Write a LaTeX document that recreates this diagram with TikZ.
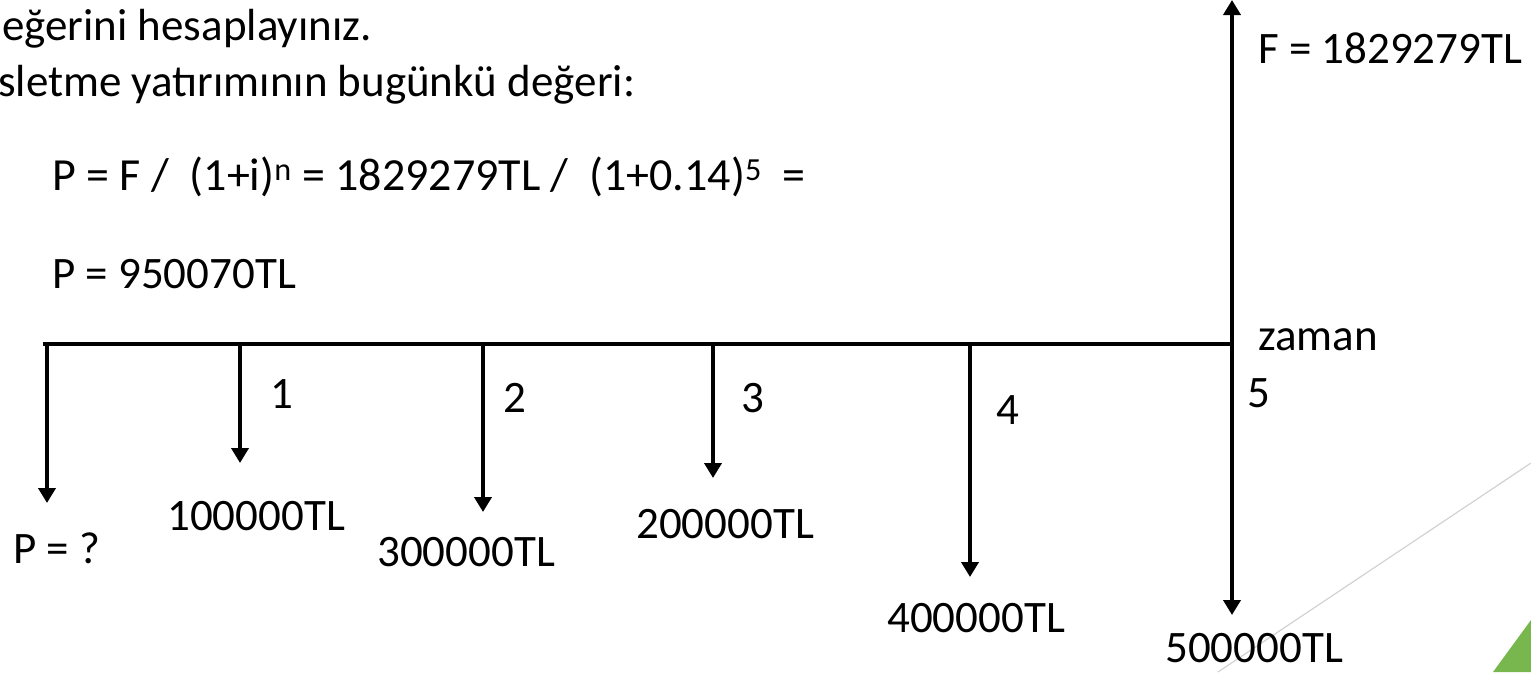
\documentclass[tikz,border=0pt]{standalone}
\usepackage{fontspec}
\setmainfont{Carlito}
\usetikzlibrary{arrows.meta}
\definecolor{leafgreen}{RGB}{120,183,77}
\definecolor{faintline}{RGB}{210,210,210}
\begin{document}
\begin{tikzpicture}[x=1pt,y=-1pt,
  txt/.style={anchor=base west,inner sep=0pt,font=\fontsize{45}{54}\selectfont},
  bigtxt/.style={txt,font=\fontsize{46}{55}\selectfont},
  axisline/.style={line width=4.5pt},
  flow/.style={line width=4pt,-{Triangle[width=17pt,length=15pt]}}]
\useasboundingbox (0,0) rectangle (1531,672);
% decoration
\fill[leafgreen] (1493,672) -- (1531,620) -- (1531,672) -- cycle;
\draw[faintline,line width=1.2pt] (1218,672) -- (1531,463);
% text at top
\node[txt] (t1) at (2,40) {eğerini hesaplayınız.};
\node[txt] (t2) at (-2,96) {sletme yatırımının bugünkü değeri:};
\node[bigtxt] (f1) at (52,190) {P = F /~~(1+i)\textsuperscript{n} = 1829279TL /~~(1+0.14)\textsuperscript{5}~~=};
\node[txt] (f2) at (52,288) {P = 950070TL};
% axis
\coordinate (L) at (43,344);
\coordinate (a0) at (47,344);
\coordinate (a1) at (240,344);
\coordinate (a2) at (483,344);
\coordinate (a3) at (713,344);
\coordinate (a4) at (970,344);
\coordinate (a5) at (1232,344);
\coordinate (b0) at (47,503);
\coordinate (b1) at (240,463);
\coordinate (b2) at (483,512);
\coordinate (b3) at (713,478);
\coordinate (b4) at (970,577);
\coordinate (b5) at (1232,615);
\coordinate (top) at (1232,0);
\draw[axisline] (L) -- (a5);
\draw[flow] (a0) -- (b0);
\draw[flow] (a1) -- (b1);
\draw[flow] (a2) -- (b2);
\draw[flow] (a3) -- (b3);
\draw[flow] (a4) -- (b4);
\draw[flow] (a5) -- (b5);
\draw[flow] (a5) -- (top);
% labels
\node[txt] (n1) at (270,408) {1};
\node[txt] (n2) at (503,412) {2};
\node[txt] (n3) at (741,412) {3};
\node[txt] (n4) at (996,424) {4};
\node[txt] (n5) at (1247,407) {5};
\node[txt] (zaman) at (1258,350) {zaman};
\node[txt] (F) at (1258,63) {F = 1829279TL};
\node[txt] (P) at (13,563) {P = ?};
\node[txt] (c1) at (167,530) {100000TL};
\node[txt] (c2) at (377,566) {300000TL};
\node[txt] (c3) at (636,538) {200000TL};
\node[txt] (c4) at (887,632) {400000TL};
\node[txt] (c5) at (1165,662) {500000TL};
\end{tikzpicture}
\end{document}
